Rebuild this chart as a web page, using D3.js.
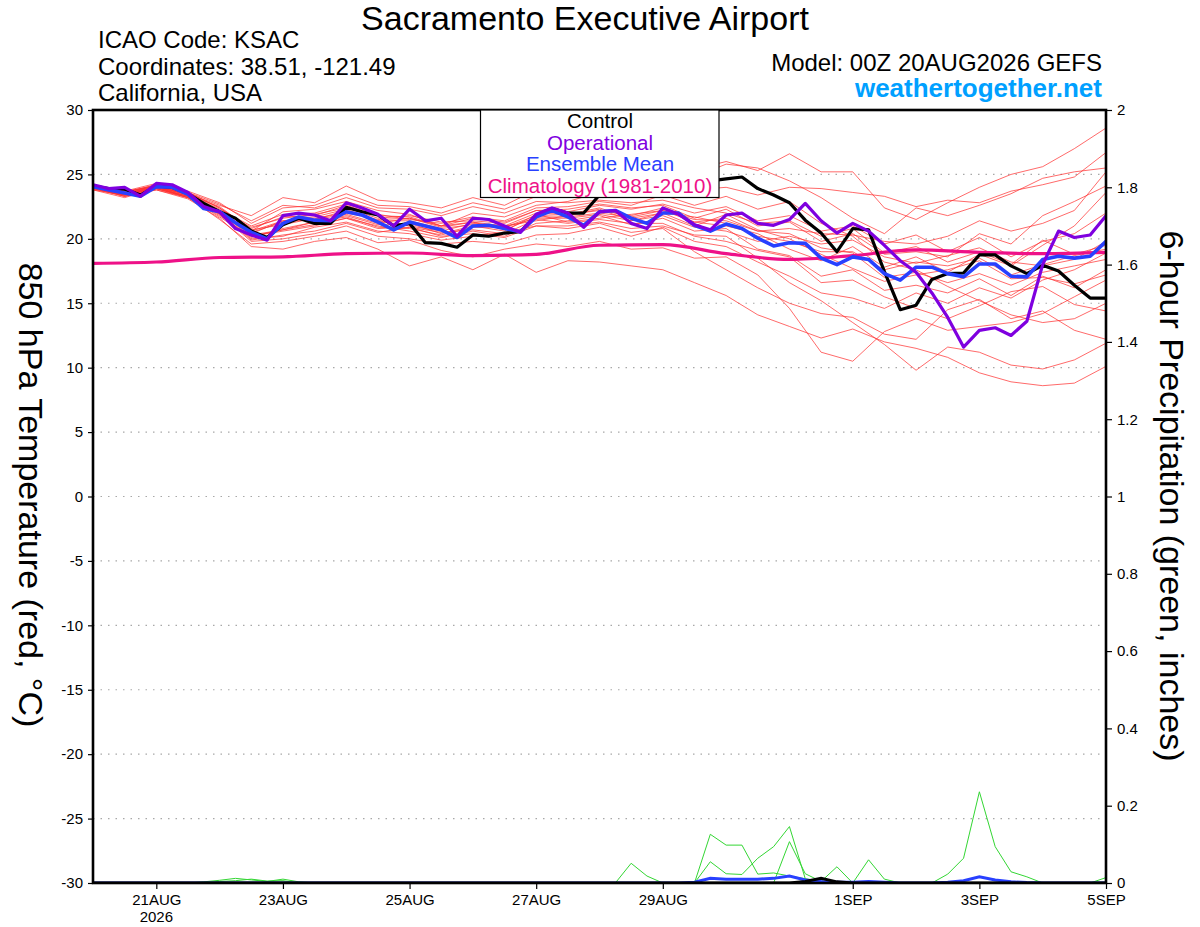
<!DOCTYPE html>
<html>
<head>
<meta charset="utf-8">
<script src="https://cdn.jsdelivr.net/npm/d3@7"></script>
<style>
  html, body { margin: 0; padding: 0; background: #ffffff; }
  svg { display: block; }
</style>
</head>
<body>
<div id="chart"></div>
<script>
// GEFS 850 hPa temperature / 6-hour precipitation plume, KSAC
// Values.

const startTime = Date.UTC(2026, 7, 20, 0);   // 00Z 20AUG2026
const endTime = Date.UTC(2026, 8, 5, 0);      // 00Z 05SEP2026
const stepHours = 6;          // control, operational, mean, precip
const memberStepHours = 12;   // ensemble members
const climStepHours = 24;     // climatology

// 6-hourly, one row per day (4 values), last value = 00Z 5SEP
const controlTemp = [
  24.1, 23.9, 23.85, 23.4,
  24.1, 24.0, 23.5, 22.75,
  22.1, 21.6, 20.6, 20.1,
  21.1, 21.6, 21.2, 21.2,
  22.45, 22.1, 21.85, 21.0,
  21.2, 19.7, 19.65, 19.35,
  20.3, 20.2, 20.45, 20.55,
  21.85, 22.35, 22.0, 22.0,
  23.4, 23.8, 24.0, 24.1,
  24.2, 24.3, 24.4, 24.5,
  24.65, 24.8, 23.9, 23.4,
  22.8, 21.45, 20.45, 19.0,
  20.8, 20.7, 17.45, 14.5,
  14.85, 16.85, 17.3, 17.35,
  18.75, 18.75, 17.9, 17.3,
  17.95, 17.5, 16.4, 15.4,
  15.4
];

const operationalTemp = [
  24.2, 23.9, 24.0, 23.3,
  24.3, 24.2, 23.6, 22.5,
  22.1, 20.8, 20.3, 19.9,
  21.8, 22.0, 21.85, 21.4,
  22.8, 22.4, 21.9, 21.0,
  22.3, 21.4, 21.6, 20.2,
  21.6, 21.5, 21.0, 20.5,
  21.9, 22.4, 22.0, 20.9,
  22.1, 22.2, 21.2, 20.8,
  22.4, 21.9, 21.1, 20.7,
  21.85, 22.0, 21.2, 21.05,
  21.5, 22.75, 21.4, 20.45,
  21.2, 20.6, 19.5, 18.3,
  17.4, 15.8, 13.9, 11.6,
  12.9, 13.1, 12.5, 13.6,
  18.0, 20.6, 20.1, 20.3,
  21.8
];

const meanTemp = [
  24.05, 23.8, 23.55, 23.3,
  24.05, 24.0, 23.45, 22.35,
  22.1, 21.25, 20.5, 20.0,
  21.2, 21.7, 21.45, 21.4,
  22.1, 21.85, 21.3, 20.7,
  21.3, 21.0, 20.7, 20.1,
  21.0, 21.05, 20.8, 20.55,
  21.7, 22.2, 21.7, 21.05,
  22.1, 22.2, 21.6, 21.2,
  22.0, 22.0, 21.05, 20.6,
  21.15, 20.8, 20.05, 19.45,
  19.7, 19.65, 18.5, 18.0,
  18.6, 18.4, 17.3, 16.8,
  17.8, 17.8, 17.3, 17.05,
  18.05, 18.05, 17.1, 17.05,
  18.4, 18.65, 18.5, 18.65,
  19.8
];

// daily climatology (1981-2010), 20AUG .. 5SEP
const climTemp = [18.1, 18.2, 18.55, 18.6, 18.85, 18.9, 18.7, 18.8, 19.5,
                  19.55, 18.85, 18.4, 18.7, 19.15, 18.95, 18.85, 18.95];

// ensemble members, 12-hourly (33 values each)
const memberTemps = [
  [24.1,23.6,24.2,23.5,22.6,21.8,23.2,22.8,24.1,23.0,22.8,22.4,23.2,22.6,23.8,24.0,24.8,25.0,25.5,25.4,26.0,25.3,26.6,25.2,25.2,22.4,21.5,22.8,24.0,25.0,25.6,27.0,28.6],
  [23.9,23.3,23.8,23.1,21.6,19.4,19.2,19.8,20.1,19.2,17.9,18.6,17.6,18.8,17.4,18.3,18.2,17.9,17.6,16.6,15.6,14.1,13.2,12.3,13.0,12.0,11.5,10.8,9.6,8.9,8.6,8.8,10.1],
  [24.2,23.7,24.1,23.6,22.4,20.6,22.1,22.3,22.9,22.2,21.9,21.0,22.0,21.7,22.6,22.9,23.6,23.2,24.5,24.8,25.8,25.5,24.5,23.2,21.6,20.4,22.4,21.8,22.6,23.5,24.7,25.2,25.5],
  [23.8,23.4,23.9,23.3,22.0,19.9,20.3,20.6,21.2,20.5,20.9,20.2,20.4,20.1,21.0,20.8,21.2,20.5,20.8,19.0,17.6,16.2,15.0,14.2,13.9,12.6,12.2,14.5,15.3,13.8,14.4,12.9,12.2],
  [24.0,23.5,24.0,23.4,22.2,20.9,21.6,21.9,22.4,21.6,21.8,21.3,21.4,21.2,22.2,22.1,22.6,22.3,22.7,22.0,22.5,21.4,21.8,20.6,21.0,19.6,20.3,19.0,20.1,18.6,19.8,20.4,22.0],
  [24.1,23.4,24.0,23.2,21.8,20.2,20.6,21.0,21.6,21.0,20.6,20.1,20.6,20.2,21.2,21.4,21.8,21.1,21.6,20.6,20.8,19.2,18.7,17.1,17.6,16.0,16.4,15.8,16.9,15.6,17.1,16.2,17.6],
  [24.0,23.6,24.1,23.5,22.3,21.0,21.9,22.0,22.7,21.9,21.5,21.2,21.7,21.4,22.4,22.5,22.9,22.6,23.4,22.6,23.3,22.3,22.9,21.2,20.2,18.2,17.6,16.3,15.2,14.1,13.5,13.8,15.0],
  [23.9,23.4,23.9,23.3,22.0,20.3,20.7,21.3,21.8,21.1,21.2,20.4,21.0,20.6,21.9,21.3,21.6,21.9,22.2,21.3,21.0,20.4,19.2,18.3,19.4,17.8,18.6,17.4,18.8,17.9,19.5,21.0,23.6],
  [24.2,23.5,24.1,23.4,22.5,20.7,21.1,21.6,22.0,21.5,21.6,20.9,21.3,21.0,21.4,21.8,22.3,21.4,22.0,21.7,21.2,20.2,19.8,19.0,19.0,17.6,18.2,17.9,18.5,17.2,18.0,18.7,19.2],
  [24.0,23.3,24.0,23.3,21.9,19.8,20.0,20.4,21.0,20.2,20.0,19.6,19.8,19.6,20.3,20.4,20.9,20.2,20.9,19.8,19.4,18.2,17.1,15.8,15.4,14.6,15.8,15.0,16.2,15.4,16.8,17.6,18.9],
  [24.1,23.6,24.2,23.6,22.7,21.4,22.6,22.4,23.2,22.4,22.3,21.8,22.5,22.0,22.9,22.8,23.0,22.8,23.0,22.4,22.0,21.2,21.4,20.2,20.8,18.9,19.4,18.2,19.0,18.0,19.9,18.8,19.5],
  [23.8,23.2,23.9,23.2,21.7,20.1,20.8,21.3,21.7,20.9,20.8,20.3,20.9,20.9,21.6,21.6,21.9,21.4,21.8,20.9,20.6,19.8,20.2,19.6,19.9,18.6,18.1,18.7,19.3,18.2,17.9,18.4,19.8],
  [24.0,23.5,24.0,23.5,22.1,20.4,21.4,21.7,22.3,21.4,21.4,20.8,21.1,20.9,21.8,21.9,22.2,21.8,22.4,21.3,21.6,20.6,20.4,19.3,18.9,17.0,17.4,16.6,17.3,16.4,17.4,17.9,18.4],
  [24.2,23.7,24.3,23.7,22.8,21.2,22.4,22.6,23.5,22.6,22.5,22.0,22.8,22.3,23.3,23.4,24.0,24.4,24.9,23.8,24.0,23.4,24.0,23.9,23.6,23.3,22.5,23.0,22.8,23.7,24.2,24.8,26.7],
  [23.9,23.3,23.8,23.2,21.5,19.6,19.8,20.2,20.6,19.7,19.9,19.1,18.6,19.2,19.6,19.4,19.8,19.2,19.3,18.5,18.6,17.2,14.6,11.2,10.5,12.8,13.8,12.9,13.2,13.5,14.2,15.5,16.8],
  [24.1,23.5,24.1,23.4,22.2,20.5,21.3,21.5,22.2,21.4,21.0,20.6,21.2,21.0,22.0,21.9,22.4,21.6,22.0,21.0,21.9,20.7,20.0,18.8,17.7,16.7,17.2,17.6,18.3,16.9,17.0,16.5,17.2],
  [24.0,23.4,24.0,23.3,22.0,20.2,20.7,21.1,21.6,20.8,20.9,20.5,20.7,20.4,21.5,21.2,21.5,21.2,21.2,20.2,19.8,19.1,18.6,16.6,16.8,15.5,14.6,13.8,14.8,15.9,16.3,14.9,14.4],
  [24.1,23.6,24.1,23.6,22.4,20.8,21.7,21.8,22.6,21.8,21.7,21.0,21.6,21.3,22.2,22.3,22.7,22.4,22.6,21.6,22.3,21.0,21.3,19.8,20.4,18.8,19.0,18.6,20.4,19.6,21.8,22.9,24.1],
  [23.9,23.4,23.9,23.2,21.9,20.0,20.2,20.9,21.3,20.6,20.4,19.9,20.2,20.5,21.0,21.0,21.3,20.8,21.0,20.3,20.2,18.5,16.6,15.2,13.5,11.8,9.8,11.6,11.2,10.2,9.9,10.6,11.9],
  [24.0,23.5,24.0,23.5,22.1,20.6,21.4,21.5,21.9,21.2,21.6,21.0,21.3,20.7,21.7,21.7,22.0,21.7,22.2,21.5,21.4,20.6,20.8,20.4,20.3,19.8,19.6,20.2,21.4,20.6,21.2,22.2,25.2]
];

// 6-hour precipitation (inches), 6-hourly, one row per day
const precipMembers = [
  [0,0,0,0, 0,0,0,.003, .007,.012,.008,.004, .010,.003,0,0, 0,0,0,0, 0,0,0,0, 0,0,0,0, 0,0,0,0,
   0,0,.051,.018, 0,0,0,0, 0,0,0,0, 0,0,0,0, 0,0,0,0, 0,0,0,0, 0,0,0,0, 0,0,0,0, 0],
  [0,0,0,0, 0,0,0,0, .004,.006,.010,.005, .006,0,0,0, 0,0,0,0, 0,0,0,0, 0,0,0,0, 0,0,0,0,
   0,0,0,0, 0,0,0,.126, .098,.098,.023,.026, .018,.011,0,0, 0,0,0,0, 0,0,0,0, 0,0,0,0, 0,0,0,0, 0],
  [0,0,0,0, 0,0,0,0, 0,0,0,0, 0,0,0,0, 0,0,0,0, 0,0,0,0, 0,0,0,0, 0,0,0,0,
   0,0,0,0, 0,0,0,.055, .024,.022,.064,.094, .146,.011,.004,.042, 0,.060,.010,0, 0,0,0,0, 0,0,0,0, 0,0,0,0, 0],
  [0,0,0,0, 0,0,0,0, 0,0,0,0, 0,0,0,0, 0,0,0,0, 0,0,0,0, 0,0,0,0, 0,0,0,0,
   0,0,0,0, 0,0,0,0, 0,0,0,0, .107,.024,.004,0, 0,0,0,0, 0,0,0,0, 0,0,0,0, 0,0,0,0, 0],
  [0,0,0,0, 0,0,0,0, 0,0,0,0, 0,0,0,0, 0,0,0,0, 0,0,0,0, 0,0,0,0, 0,0,0,0,
   0,0,0,0, 0,0,0,0, 0,0,0,0, 0,0,0,0, 0,0,0,0, 0,0,.023,.064, .236,.094,.029,.016, 0,0,0,0, .014]
];
const precipMean = [
  0,0,0,0, 0,0,0,0, 0,0,0,0, 0,0,0,0, 0,0,0,0, 0,0,0,0, 0,0,0,0, 0,0,0,0,
  0,0,0,0, 0,0,.002,.012, .010,.010,.010,.012, .018,.008,.004,.002, .002,.004,.002,0,
  0,0,.002,.006, .016,.008,.003,.001, 0,0,0,0, 0
];
const precipControl = [
  0,0,0,0, 0,0,0,0, 0,0,0,0, 0,0,0,0, 0,0,0,0, 0,0,0,0, 0,0,0,0, 0,0,0,0,
  0,0,0,0, 0,0,0,0, 0,0,0,0, 0,.004,.012,.003, 0,0,0,0, 0,0,0,0, 0,0,0,0, 0,0,0,0, 0
];

// axes
const tempTicks = [-30, -25, -20, -15, -10, -5, 0, 5, 10, 15, 20, 25, 30];
const precipTicks = [0, 0.2, 0.4, 0.6, 0.8, 1, 1.2, 1.4, 1.6, 1.8, 2];
const xTickDates = ['2026-08-21', '2026-08-23', '2026-08-25', '2026-08-27',
                    '2026-08-29', '2026-09-01', '2026-09-03', '2026-09-05'];
const xTickLabels = ['21AUG', '23AUG', '25AUG', '27AUG', '29AUG', '1SEP', '3SEP', '5SEP'];

const legendItems = ['Control', 'Operational', 'Ensemble Mean', 'Climatology (1981-2010)'];

// ---------------------------------------------------------------------------

const W = 1200, H = 927;
const FONT = '"Liberation Sans", Arial, Helvetica, sans-serif';
const plot = { left: 93, right: 1106, top: 110, bottom: 883 };

const COLORS = {
    control: '#000000',
    operational: '#7f00df',
    mean: '#2840ff',
    clim: '#ee1188',
    member: '#ff3030',
    precip: '#33d633',
    site: '#00a0ff'
};

const timeAt = (i, step) => new Date(startTime + i * step * 3600e3);

const x = d3.scaleUtc()
    .domain([new Date(startTime), new Date(endTime)])
    .range([plot.left, plot.right]);
const yT = d3.scaleLinear().domain([-30, 30]).range([plot.bottom, plot.top]);
const yP = d3.scaleLinear().domain([0, 2]).range([plot.bottom, plot.top]);

const svg = d3.select('#chart')
    .append('svg')
    .attr('width', W)
    .attr('height', H)
    .attr('font-family', FONT);

svg.append('rect').attr('width', W).attr('height', H).attr('fill', '#ffffff');

svg.append('defs').append('clipPath')
    .attr('id', 'plot-clip')
  .append('rect')
    .attr('x', plot.left)
    .attr('y', plot.top)
    .attr('width', plot.right - plot.left)
    .attr('height', plot.bottom - plot.top);

// dotted gridlines at every temperature tick
svg.append('g').attr('class', 'grid')
    .selectAll('line')
    .data(tempTicks.filter(d => d > -30 && d < 30))
    .join('line')
    .attr('x1', plot.left)
    .attr('x2', plot.right)
    .attr('y1', d => yT(d))
    .attr('y2', d => yT(d))
    .attr('stroke', '#a8a8a8')
    .attr('stroke-width', 1.2)
    .attr('stroke-dasharray', '1.5 6');

const lines = svg.append('g').attr('clip-path', 'url(#plot-clip)');

function tempLine(step) {
    return d3.line()
        .x((d, i) => x(timeAt(i, step)))
        .y(d => yT(d));
}
function precipLine(step) {
    return d3.line()
        .x((d, i) => x(timeAt(i, step)))
        .y(d => yP(d));
}

// ensemble members (thin red)
lines.append('g')
    .selectAll('path')
    .data(memberTemps)
    .join('path')
    .attr('d', tempLine(memberStepHours))
    .attr('fill', 'none')
    .attr('stroke', COLORS.member)
    .attr('stroke-width', 0.9)
    .attr('stroke-opacity', 0.8);

// member precipitation (thin green)
lines.append('g')
    .selectAll('path')
    .data(precipMembers)
    .join('path')
    .attr('d', precipLine(stepHours))
    .attr('fill', 'none')
    .attr('stroke', COLORS.precip)
    .attr('stroke-width', 1);

lines.append('path')
    .datum(precipMean)
    .attr('d', precipLine(stepHours))
    .attr('fill', 'none')
    .attr('stroke', COLORS.mean)
    .attr('stroke-width', 3);

lines.append('path')
    .datum(precipControl)
    .attr('d', precipLine(stepHours))
    .attr('fill', 'none')
    .attr('stroke', COLORS.control)
    .attr('stroke-width', 3);

// climatology
lines.append('path')
    .datum(climTemp)
    .attr('d', tempLine(climStepHours).curve(d3.curveMonotoneX))
    .attr('fill', 'none')
    .attr('stroke', COLORS.clim)
    .attr('stroke-width', 3.2);

// control, mean, operational
[
    [controlTemp, COLORS.control, 3.2],
    [meanTemp, COLORS.mean, 3.6],
    [operationalTemp, COLORS.operational, 3.2]
].forEach(function([values, color, w]) {
    lines.append('path')
        .datum(values)
        .attr('d', tempLine(stepHours))
        .attr('fill', 'none')
        .attr('stroke', color)
        .attr('stroke-width', w)
        .attr('stroke-linejoin', 'round');
});

// axes
function styleAxis(g) {
    g.select('.domain').remove();
    g.attr('font-family', FONT).attr('font-size', 15);
    g.selectAll('line').attr('stroke', '#000').attr('stroke-width', 1.2);
    g.selectAll('text').attr('fill', '#000');
}

svg.append('g')
    .attr('transform', `translate(${plot.left},0)`)
    .call(d3.axisLeft(yT).tickValues(tempTicks).tickSize(5).tickPadding(5)
        .tickFormat(d => String(d)))
    .call(styleAxis);

svg.append('g')
    .attr('transform', `translate(${plot.right},0)`)
    .call(d3.axisRight(yP).tickValues(precipTicks).tickSize(6).tickPadding(5)
        .tickFormat(d => String(+d.toFixed(1))))
    .call(styleAxis);

const xTickTimes = xTickDates.map(d => new Date(d + 'T00:00:00Z'));
svg.append('g')
    .attr('transform', `translate(0,${plot.bottom})`)
    .call(d3.axisBottom(x).tickValues(xTickTimes).tickSize(6).tickPadding(5)
        .tickFormat((d, i) => xTickLabels[i]))
    .call(styleAxis);

svg.append('text')
    .attr('x', x(xTickTimes[0]))
    .attr('y', 922)
    .attr('text-anchor', 'middle')
    .attr('font-size', 15)
    .text('2026');

// plot frame
svg.append('rect')
    .attr('x', plot.left)
    .attr('y', plot.top)
    .attr('width', plot.right - plot.left)
    .attr('height', plot.bottom - plot.top)
    .attr('fill', 'none')
    .attr('stroke', '#000')
    .attr('stroke-width', 2.6);

// legend box
const legendColors = [COLORS.control, COLORS.operational, COLORS.mean, COLORS.clim];
const legend = svg.append('g');
legend.append('rect')
    .attr('x', 480.5)
    .attr('y', 110)
    .attr('width', 238.5)
    .attr('height', 87.5)
    .attr('fill', '#ffffff')
    .attr('stroke', '#000')
    .attr('stroke-width', 1.2);
legend.selectAll('text')
    .data(legendItems)
    .join('text')
    .attr('x', 600)
    .attr('y', (d, i) => 128 + i * 21.5)
    .attr('text-anchor', 'middle')
    .attr('font-size', 20.5)
    .attr('fill', (d, i) => legendColors[i])
    .text(d => d);

// axis titles
svg.append('text')
    .attr('transform', 'translate(31,495) rotate(90)')
    .attr('text-anchor', 'middle')
    .attr('dy', '0.36em')
    .attr('font-size', 34)
    .text('850 hPa Temperature (red, °C)');

svg.append('text')
    .attr('transform', 'translate(1172,496) rotate(90)')
    .attr('text-anchor', 'middle')
    .attr('dy', '0.36em')
    .attr('font-size', 34)
    .text('6-hour Precipitation (green, inches)');

// header
svg.append('text')
    .attr('x', 585)
    .attr('y', 30)
    .attr('text-anchor', 'middle')
    .attr('font-size', 34)
    .text('Sacramento Executive Airport');

const infoLines = ['ICAO Code: KSAC', 'Coordinates: 38.51, -121.49', 'California, USA'];
svg.append('g')
    .selectAll('text')
    .data(infoLines)
    .join('text')
    .attr('x', 98)
    .attr('y', (d, i) => 48 + i * 26.5)
    .attr('font-size', 24)
    .text(d => d);

svg.append('text')
    .attr('x', 1102)
    .attr('y', 71)
    .attr('text-anchor', 'end')
    .attr('font-size', 24)
    .text('Model: 00Z 20AUG2026 GEFS');

svg.append('text')
    .attr('x', 1102)
    .attr('y', 97)
    .attr('text-anchor', 'end')
    .attr('font-size', 26)
    .attr('font-weight', 'bold')
    .attr('fill', COLORS.site)
    .text('weathertogether.net');
</script>
</body>
</html>
